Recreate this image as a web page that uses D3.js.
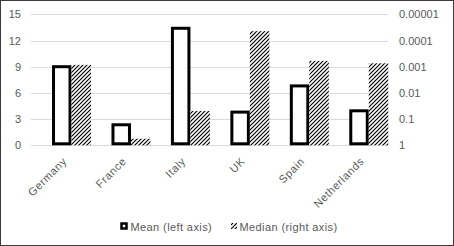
<!DOCTYPE html>
<html>
<head>
<meta charset="utf-8">
<script src="https://cdn.jsdelivr.net/npm/d3@7/dist/d3.min.js"></script>
<style>
  body { margin: 0; background: #fff; }
  text { font-family: "Liberation Sans", Arial, sans-serif; fill: #595959; }
</style>
</head>
<body>
<div id="chart"></div>
<script>
const countries = ['Germany', 'France', 'Italy', 'UK', 'Spain', 'Netherlands'];
const means = [9.0, 2.35, 13.4, 3.8, 6.8, 3.95];
const medians = [0.00085, 0.56, 0.049, 0.000044, 0.0006, 0.00074];
const leftTicks = [0, 3, 6, 9, 12, 15];
const rightTicks = [1, 0.1, 0.01, 0.001, 0.0001, 0.00001];
const rightTickLabels = ['1', '0.1', '0.01', '0.001', '0.0001', '0.00001'];
const seriesNames = ['Mean (left axis)', 'Median (right axis)'];

const width = 454;
const height = 246;

const svg = d3.select('#chart')
  .append('svg')
    .attr('width', width)
    .attr('height', height);

const defs = svg.append('defs');
defs.append('pattern')
  .attr('id', 'hatch')
  .attr('patternUnits', 'userSpaceOnUse')
  .attr('width', 4)
  .attr('height', 4)
  .call(p => {
    p.append('rect').attr('width', 4).attr('height', 4).attr('fill', '#fff');
    p.append('path')
      .attr('d', 'M-1,1 l2,-2 M0,4 l4,-4 M3,5 l2,-2')
      .attr('stroke', '#000')
      .attr('stroke-width', 1.2);
  });

svg.append('rect')
  .attr('x', 0.5).attr('y', 0.5)
  .attr('width', width - 1).attr('height', height - 1)
  .attr('fill', '#fff')
  .attr('stroke', '#3a3a3a');

const gridX1 = 31;
const gridX2 = 388;

const scaleX = d3.scaleBand()
  .domain(countries)
  .range([41.8, 398.5]);

const scaleY = d3.scaleLinear()
  .domain([0, 15])
  .range([145.3, 14.3]);

const scaleYLog = d3.scaleLog()
  .domain([1, 0.00001])
  .range([145.3, 14.3]);

// gridlines
svg.append('g')
  .selectAll('line')
  .data(leftTicks)
  .join('line')
    .attr('x1', gridX1)
    .attr('x2', gridX2)
    .attr('y1', d => Math.round(scaleY(d)) + 0.5)
    .attr('y2', d => Math.round(scaleY(d)) + 0.5)
    .attr('stroke', '#d9d9d9')
    .attr('stroke-width', 1);

// left axis labels
svg.append('g')
  .selectAll('text')
  .data(leftTicks)
  .join('text')
    .attr('x', 21)
    .attr('y', d => scaleY(d) + 4)
    .attr('text-anchor', 'end')
    .attr('font-size', '11px')
    .text(d => d);

// right axis labels
svg.append('g')
  .selectAll('text')
  .data(rightTicks)
  .join('text')
    .attr('x', 399)
    .attr('y', d => scaleYLog(d) + 4)
    .attr('font-size', '11px')
    .text((d, i) => rightTickLabels[i]);

const barW = 19.5;
const center = d => scaleX(d) + scaleX.bandwidth() / 2;

// mean bars
svg.append('g')
  .selectAll('rect')
  .data(countries)
  .join('rect')
    .attr('x', d => center(d) - barW + 1.5)
    .attr('y', (d, i) => scaleY(means[i]))
    .attr('width', barW - 3)
    .attr('height', (d, i) => scaleY(0) - scaleY(means[i]) - 1.5)
    .attr('fill', '#fff')
    .attr('stroke', '#000')
    .attr('stroke-width', 3);

// median bars
svg.append('g')
  .selectAll('rect')
  .data(countries)
  .join('rect')
    .attr('x', d => center(d))
    .attr('y', (d, i) => scaleYLog(medians[i]))
    .attr('width', barW)
    .attr('height', (d, i) => scaleYLog(1) - scaleYLog(medians[i]))
    .attr('fill', 'url(#hatch)');

// category labels
svg.append('g')
  .selectAll('text')
  .data(countries)
  .join('text')
    .attr('text-anchor', 'end')
    .attr('font-size', '11px')
    .attr('letter-spacing', '0.6px')
    .attr('transform', d => `translate(${center(d) - 4}, 162) rotate(-45)`)
    .text(d => d);

// legend
const legend = svg.append('g');
legend.append('rect')
  .attr('x', 121.5).attr('y', 223.5)
  .attr('width', 5).attr('height', 5)
  .attr('fill', '#fff')
  .attr('stroke', '#000')
  .attr('stroke-width', 2.5);
legend.append('text')
  .attr('x', 130.5).attr('y', 231)
  .attr('font-size', '11px')
  .attr('letter-spacing', '0.4px')
  .text(seriesNames[0]);
legend.append('rect')
  .attr('x', 231).attr('y', 223)
  .attr('width', 6).attr('height', 6)
  .attr('fill', 'url(#hatch)');
legend.append('text')
  .attr('x', 239.5).attr('y', 231)
  .attr('font-size', '11px')
  .attr('letter-spacing', '0.4px')
  .text(seriesNames[1]);
</script>
</body>
</html>
